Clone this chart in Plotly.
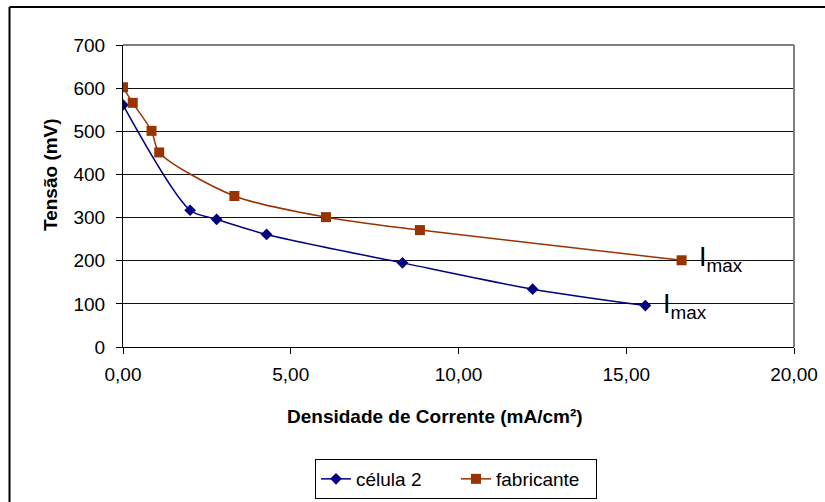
import plotly.graph_objects as go

# Current density (mA/cm²) and voltage (mV) for each cell
celula_x = [0.0, 2.0, 2.79, 4.28, 8.33, 12.21, 15.57]
celula_y = [561, 317, 296, 261, 195, 134, 96]

fab_x = [0.0, 0.29, 0.85, 1.08, 3.32, 6.05, 8.85, 16.65]
fab_y = [602, 566, 501, 451, 350, 301, 271, 201]

x_ticks = [0, 5, 10, 15, 20]
y_ticks = [0, 100, 200, 300, 400, 500, 600, 700]

NAVY = "#000080"
BROWN = "#993300"
FONT = "Liberation Sans, Arial, sans-serif"

fig = go.Figure()
fig.add_trace(go.Scatter(
    x=celula_x, y=celula_y, name="célula 2", mode="lines+markers",
    line=dict(color=NAVY, width=1.5, shape="spline", smoothing=0.8),
    marker=dict(symbol="diamond", size=9, color=NAVY),
))
fig.add_trace(go.Scatter(
    x=fab_x, y=fab_y, name="fabricante", mode="lines+markers",
    line=dict(color=BROWN, width=1.5, shape="spline", smoothing=0.8),
    marker=dict(symbol="square", size=10, color=BROWN),
))

L, R, T, B = 123, 31, 45, 155
W, H = 825, 502
pw, ph = W - L - R, H - T - B


def px(xp):
    return (xp - L) / pw


def py(yp):
    return (H - B - yp) / ph


fig.update_layout(
    width=W, height=H,
    margin=dict(l=L, r=R, t=T, b=B, pad=0, autoexpand=False),
    paper_bgcolor="white", plot_bgcolor="white",
    font=dict(family=FONT, size=19, color="black"),
    separators=",.",
    showlegend=True,
    legend=dict(
        orientation="h", x=px(456), xanchor="center", y=py(459), yanchor="top",
        bordercolor="black", borderwidth=1, font=dict(size=19),
        entrywidth=95, entrywidthmode="pixels",
    ),
    xaxis=dict(
        range=[0, 20], tickvals=x_ticks, tickformat=".2f",
        showgrid=False, zeroline=False, automargin=False,
        showline=True, linecolor="black", linewidth=1,
        ticks="outside", ticklen=6, tickcolor="black",
        ticklabelstandoff=4,
    ),
    yaxis=dict(
        range=[0, 700], tickvals=y_ticks,
        showgrid=True, gridcolor="#111111", gridwidth=1,
        zeroline=False, automargin=False,
        showline=True, linecolor="black", linewidth=1,
        ticks="outside", ticklen=6, tickcolor="black",
        ticklabelstandoff=7,
    ),
    shapes=[
        # plot-area frame on the top and right sides
        dict(type="line", xref="paper", yref="paper", x0=0, x1=1, y0=1, y1=1,
             line=dict(color="#808080", width=2)),
        dict(type="line", xref="paper", yref="paper", x0=1, x1=1, y0=0, y1=1,
             line=dict(color="#808080", width=2)),
        # outer chart frame
        dict(type="line", xref="paper", yref="paper", x0=px(9.5), x1=px(830),
             y0=py(7), y1=py(7), line=dict(color="black", width=2)),
        dict(type="line", xref="paper", yref="paper", x0=px(9.5), x1=px(9.5),
             y0=py(7), y1=py(510), line=dict(color="black", width=2)),
    ],
    annotations=[
        dict(text="<b>Tensão (mV)</b>", xref="paper", yref="paper",
             x=px(50), y=py(175), textangle=-90, showarrow=False,
             xanchor="center", yanchor="middle", font=dict(size=19)),
        dict(text="<b>Densidade de Corrente (mA/cm²)</b>", xref="paper", yref="paper",
             x=px(435), y=py(416), showarrow=False,
             xanchor="center", yanchor="middle", font=dict(size=19)),
        dict(text="I<sub>max</sub>", xref="x", yref="y",
             x=17.1, y=fab_y[-1] + 4, showarrow=False,
             xanchor="left", yanchor="middle", font=dict(size=27)),
        dict(text="I<sub>max</sub>", xref="x", yref="y",
             x=16.03, y=celula_y[-1], showarrow=False,
             xanchor="left", yanchor="middle", font=dict(size=27)),
    ],
)

fig.write_html("out.html")
